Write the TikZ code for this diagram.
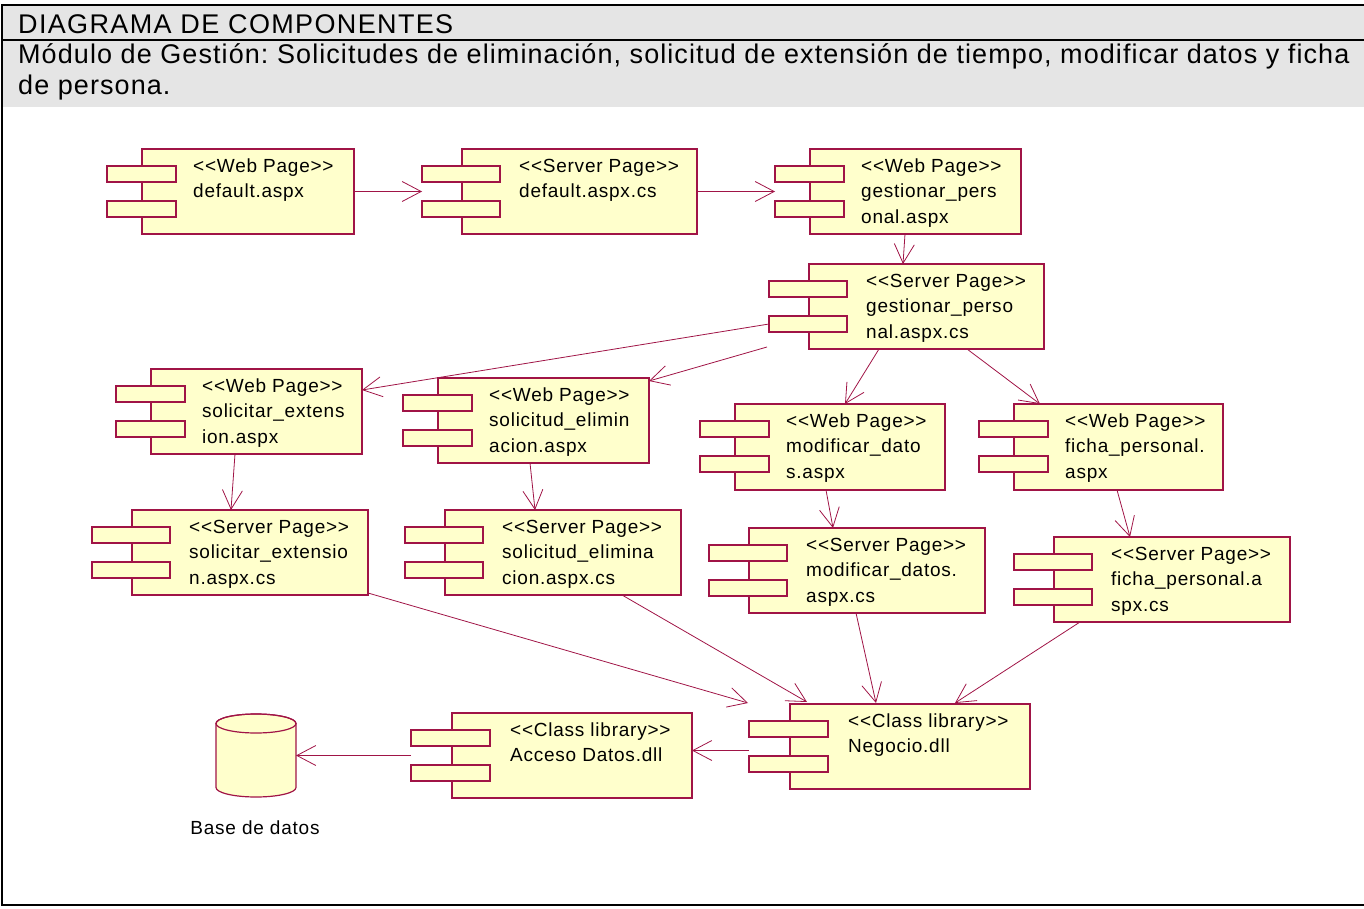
\documentclass[tikz,border=0pt]{standalone}
\usepackage{fontspec}
\setmainfont{Liberation Sans}
\newfontfamily\cf[LetterSpace=4]{Liberation Sans}
\newfontfamily\hf[LetterSpace=5]{Liberation Sans}
\newfontfamily\subfnt[LetterSpace=4]{Liberation Sans}
\frenchspacing
\usetikzlibrary{arrows.meta,calc}
\definecolor{umlred}{RGB}{160,20,70}
\definecolor{umlfill}{RGB}{255,255,204}
\definecolor{hdrgray}{RGB}{229,229,229}
\tikzset{
  body/.style={draw=umlred, fill=umlfill, line width=1.2pt, inner sep=0pt, outer sep=0pt},
  tabbox/.style={draw=umlred, fill=umlfill, line width=1.2pt, inner sep=0pt, outer sep=0pt, minimum height=16pt, anchor=north west},
  ctext/.style={inner sep=0pt, anchor=base west, font=\cf\fontsize{19}{25}\selectfont, text=black},
  hdrtext/.style={inner sep=0pt, anchor=base west, font=\hf\fontsize{27}{31}\selectfont, text=black},
  subtext/.style={inner sep=0pt, anchor=base west, font=\subfnt\fontsize{27}{31}\selectfont, text=black},
  dep/.style={draw=umlred, line width=0.8pt, -{Straight Barb[length=19pt,width=20pt]}},
}
% name, left, top, right, bottom, tab-left, tab-right, text offset, lines
\newcommand\umlcomp[9]{%
  \node[body, anchor=north west, minimum width={(#4-#2)*1pt}, minimum height={(#5-#3)*1pt}] (#1) at (#2,-#3) {};
  \node[tabbox, minimum width={(#6+#7)*1pt}] (#1t1) at ($(#1.north west)+(-#6,-17)$) {};
  \node[tabbox, minimum width={(#6+#7)*1pt}] (#1t2) at ($(#1.north west)+(-#6,-52)$) {};
  \foreach \ln [count=\i] in {#9} {
    \node[ctext] (#1l\i) at ($(#1.north west)+(#8,{-23.5-25.3*(\i-1)})$) {\ln};
  }
}
\newcommand\webpage[6]{\umlcomp{#1}{#2}{#3}{#4}{#5}{35}{34}{51}{#6}}
\newcommand\serverpage[6]{\umlcomp{#1}{#2}{#3}{#4}{#5}{40}{38}{57}{#6}}
\newcommand\classlib[6]{\umlcomp{#1}{#2}{#3}{#4}{#5}{41}{38}{58}{#6}}
\begin{document}
\begin{tikzpicture}[x=1pt,y=1pt]
\useasboundingbox (0,0) rectangle (1364,-909);
% header
\fill[hdrgray] (1.5,-5) rectangle (1364,-107);
\draw[line width=2pt] (1.5,-40) -- (1364,-40);
\draw[line width=2pt] (1.5,-5) rectangle (1365,-905);
\node[hdrtext] (title) at (18,-33.3) {DIAGRAMA DE COMPONENTES};
\node[subtext] (sub1) at (18,-63.8) {Módulo de Gestión: Solicitudes de eliminación, solicitud de extensión de tiempo, modificar datos y ficha};
\node[subtext] (sub2) at (18,-94.5) {de persona.};
% components
\webpage{d1}{142}{149}{354}{234}{<<Web Page>>, default.aspx}
\serverpage{d2}{462}{149}{697}{234}{<<Server Page>>, default.aspx.cs}
\webpage{d3}{810}{149}{1021}{234}{<<Web Page>>, gestionar\_pers, onal.aspx}
\serverpage{g4}{809}{264}{1044}{349}{<<Server Page>>, gestionar\_perso, nal.aspx.cs}
\webpage{se1}{151}{369}{362}{454}{<<Web Page>>, solicitar\_extens, ion.aspx}
\webpage{se2}{438}{378}{649}{463}{<<Web Page>>, solicitud\_elimin, acion.aspx}
\webpage{md1}{735}{404}{945}{490}{<<Web Page>>, modificar\_dato, s.aspx}
\webpage{fp1}{1014}{404}{1223}{490}{<<Web Page>>, ficha\_personal., aspx}
\serverpage{se1c}{132}{510}{368}{595}{<<Server Page>>, solicitar\_extensio, n.aspx.cs}
\serverpage{se2c}{445}{510}{681}{595}{<<Server Page>>, solicitud\_elimina, cion.aspx.cs}
\serverpage{md2}{749}{528}{985}{613}{<<Server Page>>, modificar\_datos., aspx.cs}
\serverpage{fp2}{1054}{537}{1290}{622}{<<Server Page>>, ficha\_personal.a, spx.cs}
\classlib{ng}{790}{704}{1030}{789}{<<Class library>>, Negocio.dll}
\classlib{ad}{452}{713}{692}{798}{<<Class library>>, Acceso Datos.dll}
% database
\node[inner sep=0pt, outer sep=0pt, minimum width=80pt, minimum height=83pt] (db) at (256,-755.5) {};
\filldraw[draw=umlred, fill=umlfill, line width=1.2pt] (216,-723.5) -- (216,-787.5)
  arc[start angle=180, end angle=360, x radius=40, y radius=9.5] -- (296,-723.5)
  arc[start angle=0, end angle=180, x radius=40, y radius=9.5] -- cycle;
\draw[umlred, line width=1.2pt] (256,-723.5) ellipse [x radius=40, y radius=9.5];
\node[inner sep=0pt, anchor=base, font=\cf\fontsize{19}{23}\selectfont] (dblabel) at (255,-834.3) {Base de datos};
% connectors
\draw[dep] (d1.east) -- ([xshift=-40pt]d2.west);
\draw[dep] (d2.east) -- ([xshift=-35pt]d3.west);
\draw[dep] ([xshift=-10.5pt]d3.south) -- ([xshift=-23.5pt]g4.north);
\draw[dep] (g4t2.west) -- ([yshift=-21pt]se1.north east);
\draw[dep] ([xshift=-42pt,yshift=2pt]g4.south west) -- ([yshift=-3pt]se2.north east);
\draw[dep] ([xshift=70pt]g4.south west) -- ([xshift=110pt]md1.north west);
\draw[dep] ([xshift=158pt]g4.south west) -- ([xshift=26pt]fp1.north west);
\draw[dep] ([xshift=84pt]se1.south west) -- ([xshift=99pt]se1c.north west);
\draw[dep] ([xshift=92pt]se2.south west) -- ([xshift=90pt]se2c.north west);
\draw[dep] ([xshift=91pt]md1.south west) -- ([xshift=84pt]md2.north west);
\draw[dep] ([xshift=103pt]fp1.south west) -- ([xshift=76pt]fp2.north west);
\draw[dep] ([yshift=2pt]se1c.south east) -- ([xshift=-42pt,yshift=1pt]ng.north west);
\draw[dep] ([xshift=177pt]se2c.south west) -- ([xshift=17pt,yshift=2pt]ng.north west);
\draw[dep] ([xshift=107pt]md2.south west) -- ([xshift=86pt,yshift=1pt]ng.north west);
\draw[dep] ([xshift=26pt]fp2.south west) -- ([xshift=165pt,yshift=1pt]ng.north west);
\coordinate (ngout) at ([xshift=-41pt,yshift=-4pt]ng.west);
\draw[dep] (ngout) -- (ngout -| ad.east);
\draw[dep] ([xshift=-41pt]ad.west) -- (db.east);
\end{tikzpicture}
\end{document}
